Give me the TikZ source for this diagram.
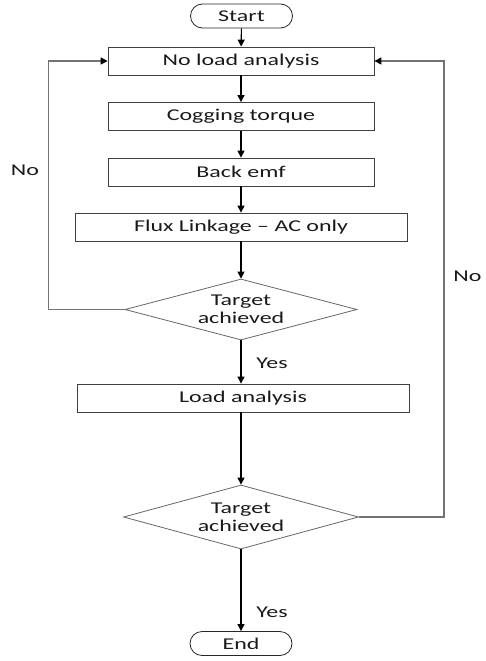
\documentclass[tikz,border=0pt]{standalone}
\usepackage{fontspec}
\setmainfont[FakeStretch=1.45]{Carlito}
\usetikzlibrary{shapes.geometric,arrows.meta}
\begin{document}
\begin{tikzpicture}[x=1pt,y=-1pt,
  txt/.style={font=\fontsize{16.5}{18}\selectfont, text=black!90},
  box/.style={txt, draw=black!75, line width=0.8pt, minimum width=#1, minimum height=28pt, inner sep=0pt},
  term/.style={txt, draw=black!85, line width=0.8pt, rounded corners=12pt, minimum width=102pt, minimum height=24pt, inner sep=0pt},
  dia/.style={txt, draw=black!60, line width=0.8pt, diamond, aspect=3.8, inner sep=0pt, minimum width=#1, align=center},
  arr/.style={draw=black, line width=1.1pt, -{Triangle[length=7pt,width=7pt]}},
  back/.style={draw=black!55, line width=1.4pt, -{Triangle[length=7pt,width=7pt,color=black]}},
  lbl/.style={txt}
]
\useasboundingbox (0,0) rectangle (486,661);
\node[term] (start) at (241.5,16) {Start};
\node[box=266pt] (nl) at (241,61) {No load analysis};
\node[box=266pt] (cog) at (241,116.5) {Cogging torque};
\node[box=266pt] (bemf) at (241,172) {Back emf};
\node[box=332pt] (flux) at (241,227) {Flux Linkage -- AC only};
\node[dia=232pt, minimum height=61pt] (d1) at (241,309.5) {Target\\achieved};
\node[box=332pt] (load) at (243,398) {Load analysis};
\node[dia=235pt, minimum height=64pt] (d2) at (241,517) {Target\\achieved};
\node[term] (end) at (241,643.5) {End};

\draw[arr] (start) -- (nl);
\draw[arr] (nl) -- (cog);
\draw[arr] (cog) -- (bemf);
\draw[arr] (bemf) -- (flux);
\draw[arr] (flux) -- (d1);
\draw[arr] (d1.south) -- (d1.south |- load.north);
\draw[arr] (load.south -| d2.north) -- (d2.north);
\draw[arr] (d2) -- (end);
\draw[back] (d1.west) -- ++(-76,0) |- (nl.west);
\draw[back] (d2.east) -- ++(85,0) |- (nl.east);

\node[lbl] (no1) at (25,170) {No};
\node[lbl, anchor=east] (no2) at (485,276) {No};
\node[lbl] (yes1) at (272,363) {Yes};
\node[lbl] (yes2) at (272,612) {Yes};
\end{tikzpicture}
\end{document}
